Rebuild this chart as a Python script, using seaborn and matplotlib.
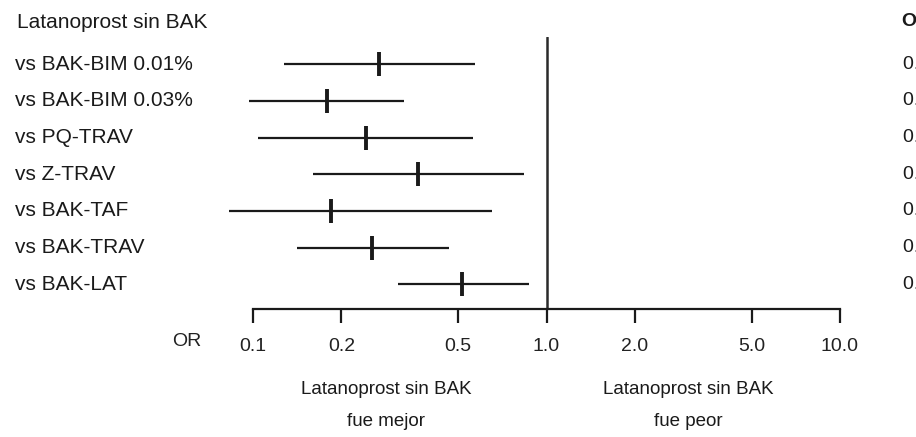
import matplotlib
matplotlib.use("Agg")
import matplotlib.pyplot as plt
import seaborn as sns
import pandas as pd

title = "Latanoprost sin BAK"
comparisons = ["vs BAK-BIM 0.01%", "vs BAK-BIM 0.03%", "vs PQ-TRAV", "vs Z-TRAV",
               "vs BAK-TAF", "vs BAK-TRAV", "vs BAK-LAT"]
odds_ratio = [0.268, 0.179, 0.242, 0.366, 0.184, 0.255, 0.517]
ci_low = [0.128, 0.097, 0.104, 0.160, 0.083, 0.141, 0.311]
ci_high = [0.569, 0.326, 0.560, 0.841, 0.654, 0.464, 0.875]
tick_values = [0.1, 0.2, 0.5, 1.0, 2.0, 5.0, 10.0]
tick_labels = ["0.1", "0.2", "0.5", "1.0", "2.0", "5.0", "10.0"]
left_note = ["Latanoprost sin BAK", "fue mejor"]
right_note = ["Latanoprost sin BAK", "fue peor"]
col_header = "OR (IC 95%)"

df = pd.DataFrame({"comp": comparisons, "OR": odds_ratio, "lo": ci_low, "hi": ci_high})
df["row"] = range(len(df))

sns.set_style("white")
plt.rcParams["font.family"] = ["Liberation Sans", "DejaVu Sans"]

W, H = 916, 437
fig = plt.figure(figsize=(W / 100, H / 100), dpi=100)
ax_left, ax_right, ax_top, ax_bot = 253, 840, 37, 309
ax = fig.add_axes([ax_left / W, 1 - ax_bot / H, (ax_right - ax_left) / W, (ax_bot - ax_top) / H])

ink = "#1a1a1a"
ax.hlines(df["row"], df["lo"], df["hi"], color=ink, linewidth=1.6, zorder=2, clip_on=False)
sns.scatterplot(data=df, x="OR", y="row", marker="|", s=280, linewidth=2.8,
                color=ink, ax=ax, zorder=3, legend=False, clip_on=False)
ax.axvline(1.0, color="#2a2a2a", linewidth=1.8, zorder=1)

ax.set_xscale("log")
ax.set_xlim(0.1, 10)
ax.set_ylim(6.674, -0.745)
ax.set_xticks(tick_values)
ax.set_xticklabels(tick_labels, fontsize=14, color="#222222")
ax.minorticks_off()
ax.set_yticks([])
ax.set_xlabel("")
ax.set_ylabel("")
for s in ["top", "left", "right"]:
    ax.spines[s].set_visible(False)
ax.spines["bottom"].set_color(ink)
ax.spines["bottom"].set_linewidth(1.6)
ax.tick_params(axis="x", direction="out", length=10, width=1.6, color=ink, pad=11, bottom=True)

def fy(px):
    return 1 - px / H

def fx(px):
    return px / W

fig.text(fx(17), fy(22), title, fontsize=15, va="center", ha="left", color="#1a1a1a")
row_px = [64.3 + 36.67 * i for i in range(len(comparisons))]
for lab, yp in zip(comparisons, row_px):
    fig.text(fx(15), fy(yp), lab, fontsize=15, va="center", ha="left", color="#1a1a1a")

fig.text(fx(187), fy(341), "OR", fontsize=14, va="center", ha="center", color="#222222")
for line, yp in zip(left_note, [390, 422]):
    fig.text(fx(386), fy(yp), line, fontsize=13.5, va="center", ha="center", color="#1a1a1a")
for line, yp in zip(right_note, [390, 422]):
    fig.text(fx(688), fy(yp), line, fontsize=13.5, va="center", ha="center", color="#1a1a1a")

fig.text(fx(902), fy(21), col_header, fontsize=14, fontweight="bold", va="center", ha="left",
         color="#1a1a1a")
for o, l, h, yp in zip(odds_ratio, ci_low, ci_high, row_px):
    fig.text(fx(903), fy(yp), f"{o:.2f} ({l:.2f}-{h:.2f})", fontsize=14, va="center",
             ha="left", color="#1a1a1a")

fig.savefig("out.png", dpi=100, facecolor="white")
